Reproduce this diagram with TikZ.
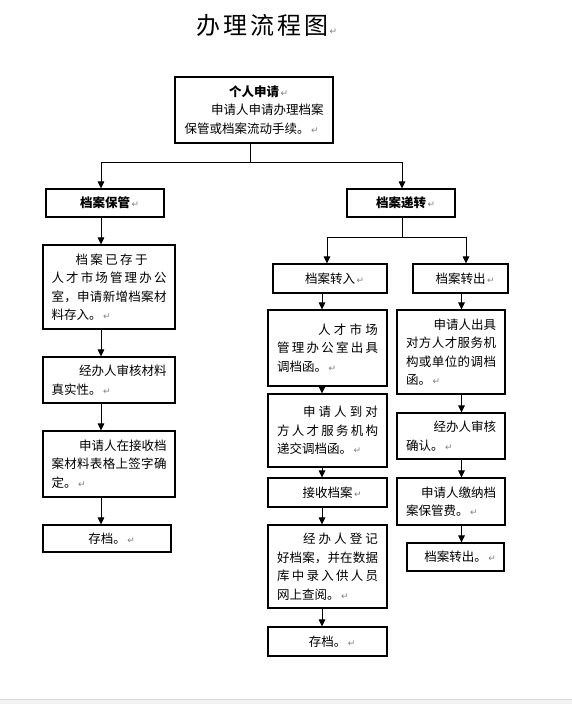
\documentclass[tikz,border=0pt]{standalone}
\usepackage{fontspec}
\setmainfont{Noto Sans CJK SC}
\newfontfamily\dejavu{DejaVu Sans}
\usetikzlibrary{arrows.meta}
\definecolor{retgray}{gray}{0.5}
\newcommand\ret{\hspace{1.5pt}{\dejavu\fontsize{9}{9}\selectfont\textcolor{retgray}{↵}}}
\def\spx#1{\spxA#1\relax}
\def\spxA#1#2{#1\ifx\relax#2\else\hfil\expandafter\spxA\expandafter#2\fi}
\newcommand\SP[2]{\makebox[#1pt][s]{\spx{#2}}}
\newcommand\RL[2]{\makebox[#1pt][r]{#2}}
\newcommand\LL[2]{\makebox[#1pt][l]{#2}}
\tikzset{
  box/.style={draw, line width=1.1pt, inner sep=0pt, font=\fontsize{12.5}{18.5}\selectfont, align=left},
  ln/.style={line width=1pt},
  arr/.style={line width=1pt, -{Triangle[length=7pt,width=6.5pt]}},
}
\begin{document}
\begin{tikzpicture}[x=1pt,y=-1pt]
\fill[white] (0,0) rectangle (572,704);
\useasboundingbox (0,0) rectangle (572,704);
\fill[gray!10] (0,699) rectangle (572,704);
\draw[gray!30, line width=0.8pt] (0,699) -- (572,699);

\node[anchor=west, inner sep=0pt, font=\fontsize{24}{24}\selectfont] (title) at (196,25.5) {\SP{132}{办理流程图}\ret};

% boxes
\node[box, minimum width=158, minimum height=66] (A) at (254,110)
  {\makebox[139pt][c]{\textbf{个人申请}\rlap{\ret}}\\ \RL{139}{申请人申请办理档案}\\ \LL{139}{保管或档案流动手续。\ret}};
\node[box, minimum width=118, minimum height=28] (B) at (105,203) {\textbf{档案保管}\rlap{\ret}};
\node[box, minimum width=108, minimum height=28] (C) at (401,203) {\textbf{档案递转}\rlap{\ret}};

\node[box, minimum width=132, minimum height=84] (D) at (109,287)
  {\LL{115}{\hspace*{24pt}\SP{72}{档案已存于}}\\ \SP{115}{人才市场管理办公}\\ \SP{115}{室，申请新增档案材}\\ \LL{115}{料存入。\ret}};
\node[box, minimum width=132, minimum height=46] (E) at (109,380)
  {\RL{115}{经办人审核材料}\\ \LL{115}{真实性。\ret}};
\node[box, minimum width=132, minimum height=66] (F) at (109,464)
  {\RL{115}{申请人在接收档}\\ \SP{115}{案材料表格上签字确}\\ \LL{115}{定。\ret}};
\node[box, minimum width=128, minimum height=27] (G) at (107,538.5) {存档。\rlap{\ret}};

\node[box, minimum width=114, minimum height=29] (H) at (330,278.5) {档案转入\rlap{\ret}};
\node[box, minimum width=95, minimum height=29] (I) at (460.5,278.5) {档案转出\rlap{\ret}};

\node[box, minimum width=119, minimum height=76] (J) at (327.5,348)
  {\RL{101}{\SP{60}{人才市场}}\\ \SP{101}{管理办公室出具}\\ \LL{101}{调档函。\ret}};
\node[box, minimum width=119, minimum height=73] (K) at (327.5,430.5)
  {\RL{101}{\SP{75}{申请人到对}}\\ \SP{101}{方人才服务机构}\\ \LL{101}{递交调档函。\ret}};
\node[box, minimum width=119, minimum height=29] (L) at (327.5,492.5) {接收档案\rlap{\ret}};
\node[box, minimum width=119, minimum height=83] (M) at (327.5,566.5)
  {\RL{101}{\SP{75}{经办人登记}}\\ \SP{101}{好档案，并在数据}\\ \SP{101}{库中录入供人员}\\ \LL{101}{网上查阅。\ret}};
\node[box, minimum width=119, minimum height=29] (N) at (327.5,641.5) {存档。\rlap{\ret}};

\node[box, minimum width=108, minimum height=84] (O) at (451,352)
  {\RL{90}{申请人出具}\\ \SP{90}{对方人才服务机}\\ \SP{90}{构或单位的调档}\\ \LL{90}{函。\ret}};
\node[box, minimum width=108, minimum height=46] (P) at (451,436)
  {\RL{90}{经办人审核}\\ \LL{90}{确认。\ret}};
\node[box, minimum width=108, minimum height=47] (Q) at (451,501.5)
  {\RL{90}{申请人缴纳档}\\ \LL{90}{案保管费。\ret}};
\node[box, minimum width=97, minimum height=28] (R) at (455.5,557) {档案转出。\rlap{\ret}};

% connectors
\coordinate (s1) at (250,162);
\draw[ln] (A.south -| s1) -- (s1);
\draw[arr] (s1) -| ([xshift=-4pt]B.north);
\draw[arr] (s1) -| ([xshift=1pt]C.north);

\coordinate (lx) at (101,0);
\draw[arr] (lx |- B.south) -- (lx |- D.north);
\draw[arr] (lx |- D.south) -- (lx |- E.north);
\draw[arr] (lx |- E.south) -- (lx |- F.north);
\draw[arr] (lx |- F.south) -- (lx |- G.north);

\coordinate (s2) at (402,237);
\draw[ln] (C.south -| s2) -- (s2);
\draw[arr] (s2) -| ([xshift=-3pt]H.north);
\draw[arr] (s2) -| ([xshift=5.5pt]I.north);

\coordinate (mx) at (322,0);
\draw[arr] (mx |- H.south) -- (mx |- J.north);
\draw[arr] (mx |- J.south) -- (mx |- K.north);
\draw[arr] (mx |- K.south) -- (mx |- L.north);
\draw[arr] (mx |- L.south) -- (mx |- M.north);
\draw[arr] (mx |- M.south) -- (mx |- N.north);

\coordinate (rx) at (461.5,0);
\draw[arr] (rx |- I.south) -- (rx |- O.north);
\draw[arr] (rx |- O.south) -- (rx |- P.north);
\draw[arr] (rx |- P.south) -- (rx |- Q.north);
\draw[arr] (rx |- Q.south) -- (rx |- R.north);
\end{tikzpicture}
\end{document}
